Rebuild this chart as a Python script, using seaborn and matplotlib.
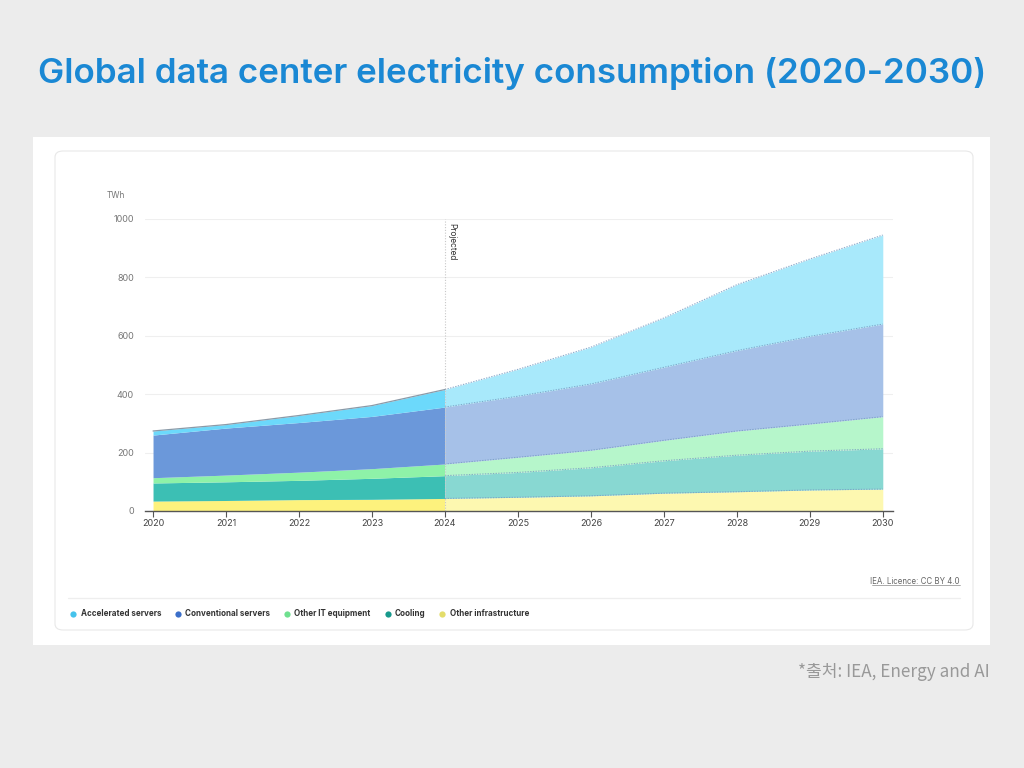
import matplotlib
matplotlib.use("Agg")
import matplotlib.pyplot as plt
from matplotlib.patches import FancyBboxPatch, Rectangle
from matplotlib.lines import Line2D
import seaborn as sns
import numpy as np
import pandas as pd

years = [2020, 2021, 2022, 2023, 2024, 2025, 2026, 2027, 2028, 2029, 2030]
other_infrastructure = [34, 36, 39, 40, 43, 47, 52, 61, 66, 72, 75]
cooling = [62, 64, 66, 72, 78, 85, 96, 111, 125, 133, 138]
other_it = [18, 23, 28, 33, 40, 52, 60, 70, 83, 93, 110]
conventional = [146, 161, 170, 179, 195, 209, 227, 250, 275, 300, 317]
accelerated = [14, 12, 24, 37, 60, 92, 126, 169, 226, 265, 305]

series_names = ["Other infrastructure", "Cooling", "Other IT equipment",
                "Conventional servers", "Accelerated servers"]
legend_order = ["Accelerated servers", "Conventional servers", "Other IT equipment",
                "Cooling", "Other infrastructure"]
y_ticks = [0, 200, 400, 600, 800, 1000]
projected_from = 2024

hist_colors = {"Other infrastructure": "#fdf27d", "Cooling": "#3cbfb4",
               "Other IT equipment": "#8ef2a8", "Conventional servers": "#6b98da",
               "Accelerated servers": "#6cd9fb"}
proj_colors = {"Other infrastructure": "#fdf8b0", "Cooling": "#88d8d2",
               "Other IT equipment": "#b6f6cb", "Conventional servers": "#a6c1e8",
               "Accelerated servers": "#a8e9fb"}
legend_colors = {"Accelerated servers": "#45c3ec", "Conventional servers": "#3b6fc9",
                 "Other IT equipment": "#6fe08f", "Cooling": "#17998c",
                 "Other infrastructure": "#e4dd6a"}

df = pd.DataFrame({"year": years,
                   "Other infrastructure": other_infrastructure,
                   "Cooling": cooling,
                   "Other IT equipment": other_it,
                   "Conventional servers": conventional,
                   "Accelerated servers": accelerated})

sns.set_theme(style="white")
plt.rcParams['font.family'] = ['Inter', 'Noto Sans CJK KR', 'DejaVu Sans']

fig = plt.figure(figsize=(10.24, 7.68), dpi=100)
fig.patch.set_facecolor("#ececec")

W, H = 1024, 768
def fx(x): return x / W
def fy(y): return 1 - y / H

# white panel
fig.patches.append(Rectangle((fx(33), fy(645)), fx(990) - fx(33), fy(137) - fy(645),
                             transform=fig.transFigure, facecolor="white",
                             edgecolor="none", zorder=-2))
# card
fig.patches.append(FancyBboxPatch((fx(55), fy(630)), fx(973) - fx(55), fy(151) - fy(630),
                                  boxstyle="round,pad=0,rounding_size=0.008",
                                  transform=fig.transFigure, facecolor="white",
                                  edgecolor="#e8e8e8", linewidth=0.8, zorder=-1))

fig.text(0.5, fy(74), "Global data center electricity consumption (2020-2030)",
         ha="center", va="center", fontsize=25.2, fontweight="semibold", color="#1a88d4")

ax = fig.add_axes([fx(145), fy(511), fx(893) - fx(145), fy(219) - fy(511)])
ax.set_zorder(3)
ax.set_facecolor("none")

x = df["year"].to_numpy()
hist = x <= projected_from
proj = x >= projected_from
cum = np.zeros(len(x))
for name in series_names:
    top = cum + df[name].to_numpy()
    ax.fill_between(x[hist], cum[hist], top[hist], color=hist_colors[name],
                    linewidth=0, zorder=2)
    ax.fill_between(x[proj], cum[proj], top[proj], color=proj_colors[name],
                    linewidth=0, zorder=2)
    line_df = pd.DataFrame({"year": x[proj], "v": top[proj]})
    sns.lineplot(data=line_df, x="year", y="v", ax=ax, color="#7a9ec4",
                 linestyle=(0, (1.2, 1.2)), linewidth=0.8, zorder=3, alpha=0.85)
    cum = top

# historical total outline
ax.plot(x[hist], cum[hist], color="#8a9aa8", linewidth=0.9, zorder=4)

ax.set_xlim(2019.89, 2030.14)
ax.set_ylim(0, 1000)
ax.set_yticks(y_ticks)
ax.set_xticks(years)
ax.set_xticklabels([str(y) for y in years])
ax.yaxis.grid(True, color="#efefef", linewidth=0.8)
ax.set_axisbelow(True)
for s in ["top", "right", "left"]:
    ax.spines[s].set_visible(False)
ax.spines["bottom"].set_color("#555555")
ax.spines["bottom"].set_linewidth(1.0)
ax.spines["bottom"].set_zorder(5)
ax.tick_params(axis="x", length=4, width=0.8, color="#555555", labelsize=6.5,
               labelcolor="#444444", pad=2, bottom=True)
ax.tick_params(axis="y", length=0, labelsize=6.5, labelcolor="#777777", pad=8)
ax.set_xlabel("")
ax.set_ylabel("")

# projected marker
ax.axvline(projected_from, color="#c8c8c8", linestyle=(0, (1, 1.5)), linewidth=0.8, zorder=4)
ax.text(projected_from + 0.03, 985, "Projected", rotation=-90, ha="left", va="top",
        fontsize=6, color="#333333", zorder=6)

fig.text(fx(116), fy(196), "TWh", ha="center", va="center", fontsize=6, color="#777777")

# licence
fig.text(fx(960), fy(581), "IEA. Licence: CC BY 4.0", ha="right", va="center",
         fontsize=5.7, color="#666666")
fig.add_artist(Line2D([fx(872), fx(960)], [fy(585), fy(585)], transform=fig.transFigure,
                      color="#888888", linewidth=0.5))
# separator
fig.add_artist(Line2D([fx(68), fx(960)], [fy(598), fy(598)], transform=fig.transFigure,
                      color="#eeeeee", linewidth=0.9))

handles = [Line2D([0], [0], marker="o", linestyle="none", markersize=4.5,
                  markerfacecolor=legend_colors[n], markeredgecolor="none", label=n)
           for n in legend_order]
leg = fig.legend(handles=handles, loc="center left", bbox_to_anchor=(fx(62), fy(614)),
                 ncol=5, frameon=False, fontsize=5.8, handletextpad=0.4,
                 columnspacing=1.6, handlelength=1.0)
for t in leg.get_texts():
    t.set_fontweight("bold")
    t.set_color("#333333")

fig.text(fx(990), fy(672), "*출처: IEA, Energy and AI", ha="right", va="center",
         fontsize=12.3, color="#999999", family=['Noto Sans CJK KR', 'DejaVu Sans'])

fig.savefig("out.png", dpi=100, facecolor=fig.get_facecolor())
